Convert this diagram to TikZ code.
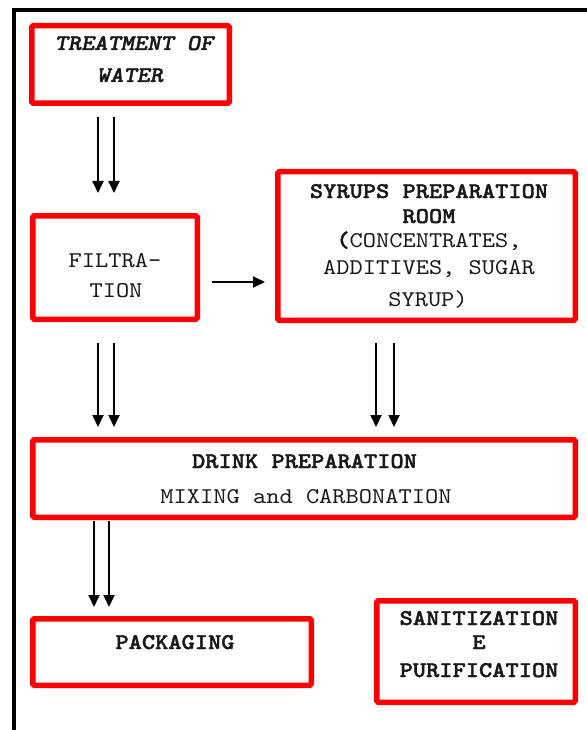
\documentclass[tikz,border=0pt]{standalone}
\usepackage{fontspec}
\newfontfamily\cour{lmmono10-regular.otf}[BoldFont=lmmonolt10-bold.otf,BoldItalicFont=lmmonolt10-boldoblique.otf,ItalicFont=lmmono10-italic.otf,FakeStretch=1.12,BoldFeatures={FakeBold=1.6},BoldItalicFeatures={FakeBold=1.6}]
\usetikzlibrary{arrows.meta}
\definecolor{boxred}{RGB}{255,0,0}
\definecolor{ink}{RGB}{25,25,25}
\begin{document}
\begin{tikzpicture}[x=1pt,y=-1pt,
  box/.style={draw=boxred,line width=5.5pt,rounded corners=1.5pt,inner sep=0pt},
  txt/.style={font=\cour\fontsize{22.5}{25}\selectfont,text=ink,inner sep=0pt,anchor=base},
  btxt/.style={txt,font=\cour\fontsize{22.5}{25}\selectfont\bfseries},
  bitxt/.style={txt,font=\cour\fontsize{22.5}{25}\selectfont\bfseries\itshape},
  flow/.style={line width=1.8pt,-{Triangle[width=11pt,length=12pt]}}]
\useasboundingbox (0,0) rectangle (586,730);
\fill[white] (0,0) rectangle (586,730);
\draw[line width=4pt] (14,732) -- (14,10) -- (588,10);

% boxes
\node[box,minimum width=197.5pt,minimum height=77.5pt] (treat) at (130.5,64.5) {};
\node[box,minimum width=164.5pt,minimum height=103.5pt] (filt) at (115,267.5) {};
\node[box,minimum width=297.5pt,minimum height=148.5pt] (syr) at (426.5,246) {};
\node[box,minimum width=542.5pt,minimum height=77.5pt] (drink) at (304,478.5) {};
\node[box,minimum width=278.5pt,minimum height=66.5pt] (pack) at (172,652) {};
\node[box,minimum width=198.5pt,minimum height=101.5pt] (san) at (476,651.5) {};

% texts
\node[bitxt] (t1) at (134,50) {TREATMENT OF};
\node[bitxt] (t2) at (130,82) {WATER};
\node[txt] (f1) at (115,267) {FILTRA-};
\node[txt] (f2) at (116,297) {TION};
\node[btxt] (s1) at (429,198) {SYRUPS PREPARATION};
\node[btxt] (s2) at (429,223) {ROOM};
\node[txt] (s3) at (429,247) {\textbf{(}CONCENTRATES,};
\node[txt] (s4) at (429,274) {ADDITIVES, SUGAR};
\node[txt] (s5) at (428,306) {SYRUP)};
\node[btxt] (d1) at (304.5,468) {DRINK PREPARATION};
\node[txt] (d2) at (306,503) {MIXING and CARBONATION};
\node[btxt] (p1) at (175,649) {PACKAGING};
\node[btxt] (z1) at (479,625) {SANITIZATION};
\node[btxt] (z2) at (479,649) {E};
\node[btxt] (z3) at (479,677) {PURIFICATION};

% connectors
\draw[flow,shorten <=11pt,shorten >=20pt] ([xshift=-32.5pt]treat.south) -- ([xshift=-17pt]filt.north);
\draw[flow,shorten <=11pt,shorten >=20pt] ([xshift=-16.5pt]treat.south) -- ([xshift=-1pt]filt.north);
\draw[flow,shorten <=12pt,shorten >=10pt] ([yshift=-14.5pt]filt.east) -- ([yshift=-36pt]syr.west);
\draw[flow,shorten <=21pt,shorten >=10pt] ([xshift=-17pt]filt.south) -- ([xshift=-206pt]drink.north);
\draw[flow,shorten <=21pt,shorten >=10pt] ([xshift=-1pt]filt.south) -- ([xshift=-190pt]drink.north);
\draw[flow,shorten <=20pt,shorten >=10pt] ([xshift=-50.5pt]syr.south) -- ([xshift=72pt]drink.north);
\draw[flow,shorten <=20pt,shorten >=10pt] ([xshift=-32.5pt]syr.south) -- ([xshift=90pt]drink.north);
\draw[flow,shorten <=1pt,shorten >=9pt] ([xshift=-210pt]drink.south) -- ([xshift=-78pt]pack.north);
\draw[flow,shorten <=1pt,shorten >=9pt] ([xshift=-195pt]drink.south) -- ([xshift=-63pt]pack.north);
\end{tikzpicture}
\end{document}
